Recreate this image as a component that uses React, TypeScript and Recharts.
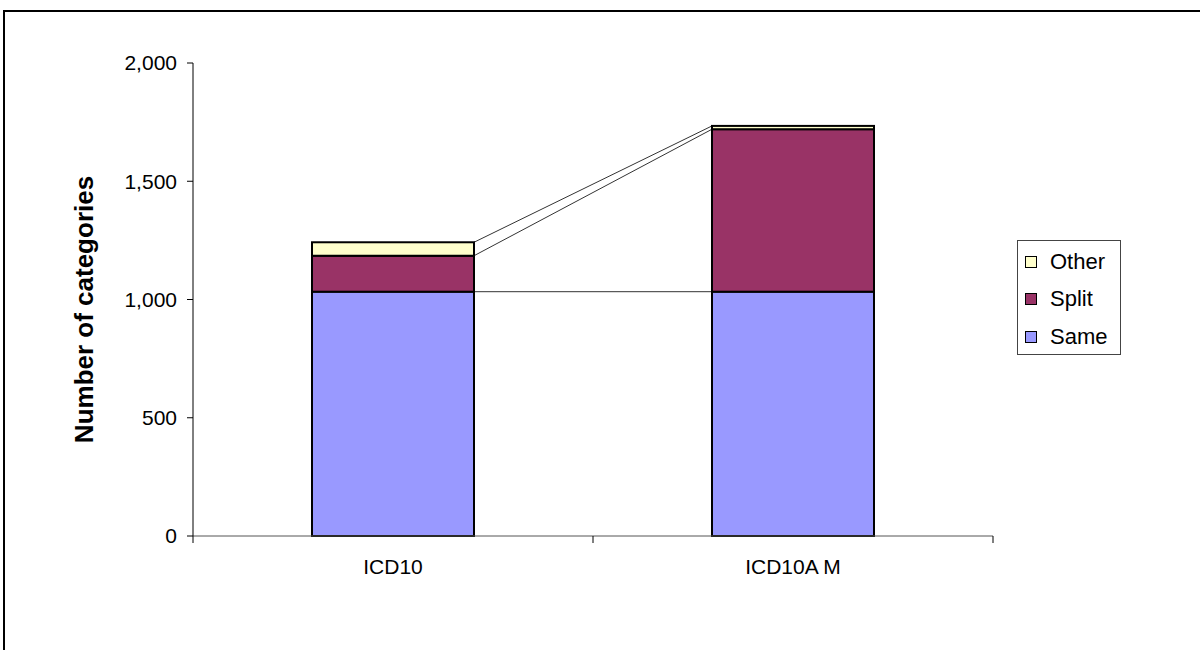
import React from 'react';
import { BarChart, Bar, XAxis, YAxis, Legend } from 'recharts';

const FONT = '"Liberation Sans", Arial, sans-serif';

const categories = ['ICD10', 'ICD10A M'];
const sameValues = [1033, 1033];
const splitValues = [152, 687];
const otherValues = [57, 14];
const yTicks = [0, 500, 1000, 1500, 2000];

const seriesKeys = ['same', 'split', 'other'];
const seriesNames = ['Same', 'Split', 'Other'];
const seriesColors = ['#9999FF', '#993366', '#FFFFCC'];

const data = categories.map((name, i) => ({
  name,
  same: sameValues[i],
  split: splitValues[i],
  other: otherValues[i],
}));

// gap on each side of a bar, as a share of the category band
const CAT_GAP = 0.2975;

const stackTop = (row: any, level: number) =>
  seriesKeys.slice(0, level + 1).reduce((s, k) => s + row[k], 0);

// bar with an Excel-like series line to the same boundary in the next column
const makeShape = (level: number) => (props: any) => {
  const { x, y, width, height, fill, index } = props;
  const row = data[index];
  const next = data[index + 1];
  const low = level === 0 ? 0 : stackTop(row, level - 1);
  const high = stackTop(row, level);
  let connector = null;
  if (next && high > low && height > 0) {
    const perUnit = height / (high - low);
    const zeroY = y + height + low * perUnit;
    const band = width / (1 - 2 * CAT_GAP);
    connector = (
      <line
        x1={x + width}
        y1={y}
        x2={x + band}
        y2={zeroY - stackTop(next, level) * perUnit}
        stroke="#333"
        strokeWidth={1}
      />
    );
  }
  return (
    <g>
      {connector}
      <rect x={x} y={y} width={width} height={height} fill={fill} stroke="#000" strokeWidth={2} />
    </g>
  );
};

const CategoryTick = (props: any) => {
  const { x, y, payload, index } = props;
  const half = payload?.offset ?? 0;
  return (
    <g>
      {index === 0 && <line x1={x - half} y1={y} x2={x - half} y2={y + 7} stroke="#000" />}
      <line x1={x + half} y1={y} x2={x + half} y2={y + 7} stroke="#000" />
      <text x={x} y={y + 38} textAnchor="middle" fontSize={21} fontFamily={FONT} fill="#000">
        {payload.value}
      </text>
    </g>
  );
};

const YLabel = (props: any) => {
  const vb = props.viewBox || { x: 0, y: 63, width: 193, height: 473 };
  const cx = vb.x + 93;
  const cy = vb.y + vb.height / 2 + 10;
  return (
    <text
      x={cx}
      y={cy}
      transform={`rotate(-90, ${cx}, ${cy})`}
      textAnchor="middle"
      fontSize={26}
      fontWeight="bold"
      fontFamily={FONT}
      fill="#000"
    >
      Number of categories
    </text>
  );
};

const LegendBox = (props: any) => {
  // Excel lists stacked series top-down: last series first
  const items = [...(props.payload || [])].sort(
    (a: any, b: any) => seriesNames.indexOf(b.value) - seriesNames.indexOf(a.value)
  );
  return (
    <div
      style={{
        border: '1px solid #444',
        background: '#fff',
        width: 104,
        height: 115,
        boxSizing: 'border-box',
        paddingTop: 2,
        fontFamily: FONT,
        fontSize: 22,
        color: '#000',
      }}
    >
      {items.map((it: any) => (
        <div key={it.value} style={{ display: 'flex', alignItems: 'center', height: 37.5, paddingLeft: 7 }}>
          <span
            style={{
              display: 'inline-block',
              width: 10,
              height: 10,
              background: it.color,
              border: '1.5px solid #000',
              marginRight: 13,
            }}
          />
          <span>{it.value}</span>
        </div>
      ))}
    </div>
  );
};

export default function App() {
  return (
    <div style={{ position: 'fixed', left: 0, top: 0, width: 1200, height: 650, background: '#fff', overflow: 'hidden' }}>
      <div
        style={{
          position: 'absolute',
          left: 3,
          top: 10,
          width: 1300,
          height: 700,
          border: '2px solid #000',
        }}
      />
      <div style={{ position: 'absolute', left: 0, top: 0 }}>
        <BarChart
          width={1200}
          height={650}
          data={data}
          margin={{ top: 63, right: 207, left: 0, bottom: 74 }}
          barCategoryGap={`${CAT_GAP * 100}%`}
        >
          <XAxis
            dataKey="name"
            height={40}
            tickLine={false}
            tickSize={0}
            tickMargin={0}
            axisLine={{ stroke: '#555', strokeWidth: 1 }}
            tick={<CategoryTick />}
            interval={0}
          />
          <YAxis
            width={193}
            domain={[0, 2000]}
            ticks={yTicks}
            interval={0}
            tickSize={6}
            tickMargin={10}
            tickFormatter={(v: number) => v.toLocaleString('en-US')}
            tick={{ fontSize: 21, fontFamily: FONT, fill: '#000' }}
            tickLine={{ stroke: '#000' }}
            axisLine={{ stroke: '#000' }}
            label={{ content: <YLabel /> }}
          />
          <Legend
            layout="vertical"
            align="center"
            verticalAlign="middle"
            content={<LegendBox />}
            wrapperStyle={{ left: 1017, top: 240, width: 104, height: 115 }}
          />
          {seriesKeys.map((key, i) => (
            <Bar
              key={key}
              dataKey={key}
              name={seriesNames[i]}
              stackId="a"
              fill={seriesColors[i]}
              shape={makeShape(i)}
              isAnimationActive={false}
            />
          ))}
        </BarChart>
      </div>
    </div>
  );
}
